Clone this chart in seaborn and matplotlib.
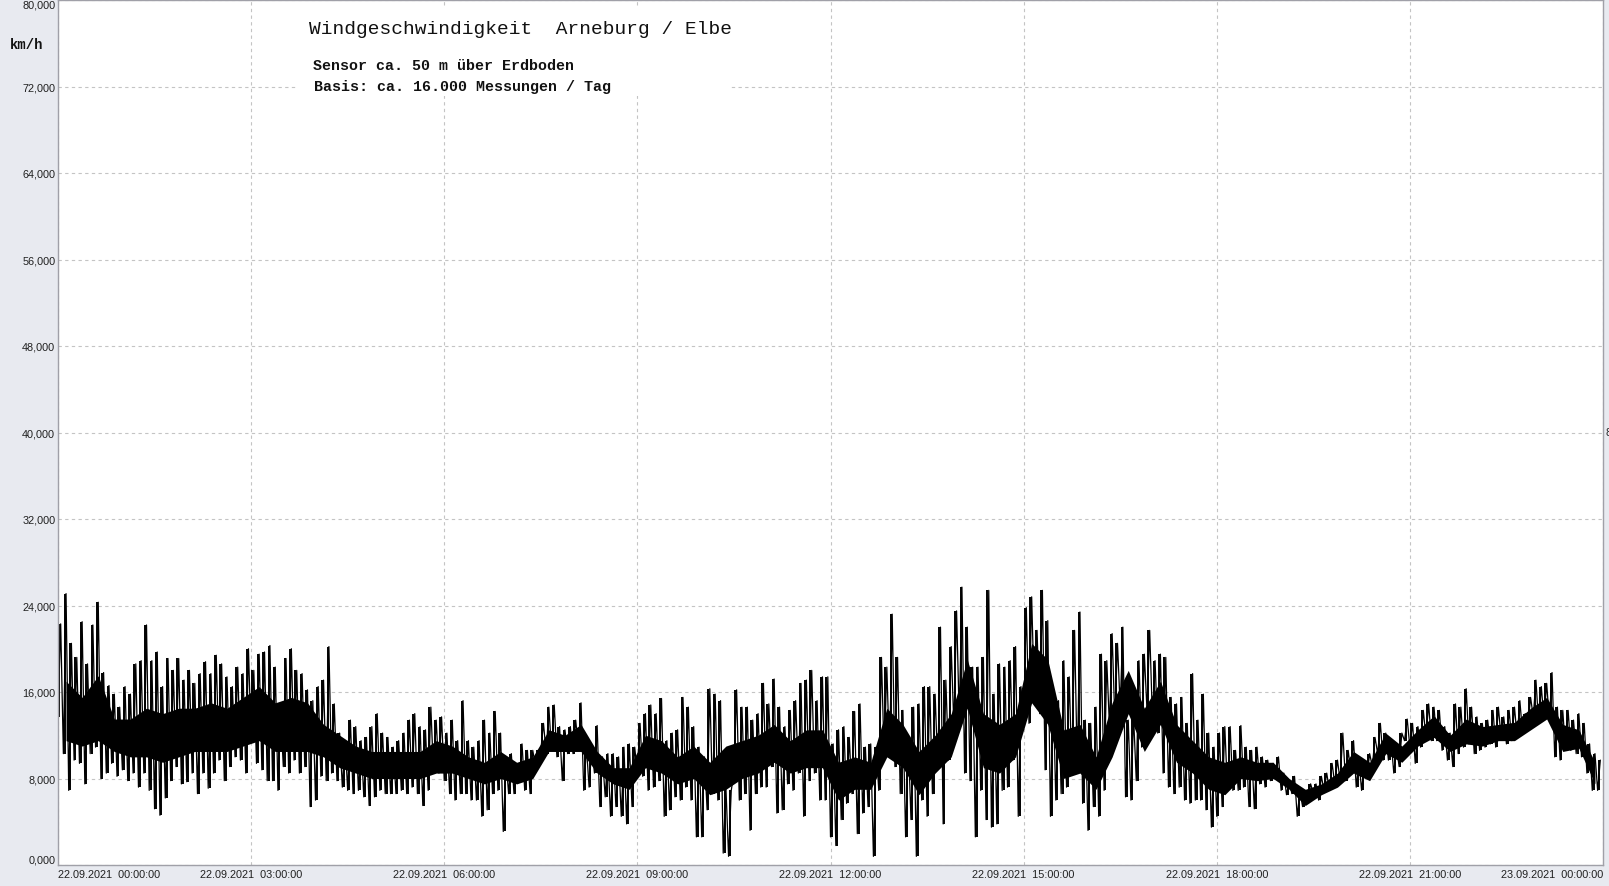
import numpy as np
import pandas as pd
import seaborn as sns
from matplotlib import pyplot as plt
from matplotlib.patches import Rectangle
from matplotlib.ticker import FuncFormatter

# wind speed (km/h), 5-minute windows, one row per hour: upper and lower extremes
wind_hi = [
    22.3, 25.1, 20.5, 19.2, 22.5, 18.6, 22.2, 24.3, 17.8, 16.6, 15.8, 14.6,
    16.5, 15.8, 18.6, 18.9, 22.2, 18.9, 19.7, 16.5, 19.1, 18.0, 19.1, 17.1,
    18.0, 16.8, 17.7, 18.8, 17.7, 19.4, 18.6, 17.4, 16.5, 18.3, 17.7, 20.0,
    18.0, 19.5, 19.7, 20.3, 18.3, 14.0, 19.1, 20.0, 18.0, 17.7, 16.2, 15.2,
    16.5, 17.1, 20.2, 14.9, 12.2, 11.5, 13.4, 12.8, 11.5, 11.8, 12.8, 14.0,
    12.2, 11.8, 10.9, 11.5, 12.2, 13.4, 14.0, 12.8, 12.5, 14.6, 13.4, 13.7,
    12.2, 13.4, 11.5, 15.2, 11.5, 10.9, 11.5, 13.4, 12.2, 14.2, 12.2, 9.7,
    10.3, 9.1, 11.2, 10.6, 10.6, 10.6, 13.1, 14.6, 14.8, 12.8, 12.5, 12.8,
    13.4, 15.0, 10.9, 10.9, 12.9, 10.0, 10.3, 10.3, 10.0, 10.9, 11.2, 10.9,
    13.1, 14.0, 14.8, 14.0, 15.4, 11.5, 12.2, 12.5, 15.5, 14.6, 12.8, 10.9,
    10.0, 16.3, 15.8, 15.2, 7.2, 6.9, 16.2, 14.6, 14.6, 13.4, 14.0, 16.8,
    14.9, 17.2, 14.6, 12.8, 14.3, 15.2, 16.8, 17.1, 18.0, 15.2, 17.4, 17.4,
    11.2, 12.5, 12.8, 11.8, 14.2, 14.9, 10.9, 11.2, 10.9, 19.2, 18.3, 23.2,
    19.2, 14.3, 11.5, 14.6, 14.9, 16.5, 16.5, 15.8, 22.0, 17.1, 20.2, 23.5,
    25.7, 22.0, 18.3, 18.3, 19.2, 25.4, 15.8, 18.6, 18.3, 18.9, 20.2, 16.5,
    23.8, 24.8, 21.7, 25.4, 22.6, 16.2, 15.2, 18.9, 17.4, 21.7, 23.4, 13.4,
    13.1, 14.6, 19.5, 18.9, 21.4, 20.5, 22.0, 13.4, 13.7, 18.9, 19.5, 21.7,
    18.9, 19.5, 19.2, 15.5, 14.9, 15.5, 13.1, 17.7, 13.4, 15.8, 12.2, 10.9,
    12.2, 12.8, 12.8, 10.6, 12.9, 10.9, 10.6, 10.9, 10.0, 9.7, 9.4, 10.0,
    8.5, 7.8, 8.2, 6.9, 6.9, 7.5, 7.5, 8.2, 8.5, 9.4, 9.7, 12.2,
    10.6, 11.5, 9.7, 9.4, 10.3, 11.8, 13.1, 12.2, 11.5, 10.9, 12.2, 13.5,
    13.1, 12.8, 14.3, 14.9, 14.6, 14.3, 12.8, 12.2, 14.9, 14.6, 16.3, 14.6,
    13.7, 13.1, 13.4, 14.3, 14.6, 13.7, 14.3, 14.6, 15.2, 14.0, 15.5, 17.1,
    16.5, 16.8, 17.8, 14.6, 14.3, 14.3, 13.4, 14.0, 13.1, 11.2, 10.3, 9.7,
]
wind_lo = [
    13.7, 10.3, 6.9, 9.7, 9.4, 7.5, 10.3, 10.9, 8.0, 8.5, 9.4, 8.2,
    8.8, 7.8, 8.5, 7.2, 8.5, 6.9, 5.2, 4.6, 6.2, 7.8, 9.1, 7.5,
    7.7, 8.5, 6.6, 8.5, 7.1, 8.5, 9.7, 7.8, 9.1, 10.0, 9.7, 8.5,
    11.5, 9.4, 8.8, 7.8, 7.8, 6.9, 9.1, 8.5, 9.7, 8.5, 9.1, 5.4,
    6.0, 8.2, 7.8, 8.5, 7.8, 7.2, 6.9, 6.6, 6.9, 6.3, 5.5, 6.3,
    6.9, 6.6, 6.6, 6.6, 6.9, 6.6, 7.2, 6.6, 5.5, 6.9, 8.5, 8.5,
    7.8, 6.6, 6.0, 6.6, 6.6, 6.0, 6.0, 4.5, 5.1, 6.6, 6.9, 3.1,
    6.6, 6.6, 7.8, 6.9, 6.6, 9.1, 10.6, 10.3, 10.6, 10.0, 7.8, 10.3,
    10.3, 10.9, 6.9, 7.2, 8.5, 5.4, 6.3, 4.5, 5.4, 4.5, 3.8, 5.4,
    8.5, 8.2, 6.9, 7.2, 7.8, 4.5, 5.1, 6.3, 6.0, 7.2, 6.0, 2.6,
    2.6, 5.1, 6.6, 6.0, 1.1, 0.8, 8.5, 6.0, 6.6, 3.2, 6.6, 7.2,
    7.2, 9.1, 4.8, 5.1, 7.5, 6.9, 8.5, 4.5, 7.8, 8.5, 6.0, 6.0,
    2.6, 1.8, 4.2, 5.7, 6.6, 2.9, 4.8, 5.4, 0.8, 6.9, 10.0, 10.0,
    9.1, 6.6, 2.6, 4.2, 0.8, 6.0, 4.5, 6.6, 9.1, 3.8, 9.7, 12.8,
    13.7, 8.5, 7.8, 2.6, 6.9, 4.2, 3.5, 3.8, 6.9, 7.2, 9.7, 4.5,
    13.1, 13.1, 15.2, 14.0, 8.8, 4.5, 6.0, 6.6, 7.2, 8.5, 9.1, 5.7,
    3.2, 5.4, 4.5, 6.9, 12.8, 13.4, 14.6, 6.3, 6.0, 7.8, 10.9, 14.3,
    13.7, 12.2, 8.5, 7.2, 6.6, 7.2, 6.0, 5.7, 6.0, 6.0, 5.1, 3.5,
    4.5, 5.4, 6.9, 6.9, 6.9, 7.2, 5.4, 5.2, 7.5, 7.2, 7.8, 8.2,
    6.9, 6.5, 6.6, 4.5, 5.4, 6.0, 6.6, 6.0, 6.9, 6.9, 7.5, 7.8,
    7.8, 8.5, 7.2, 6.9, 8.2, 9.1, 10.3, 9.7, 9.7, 8.5, 9.1, 11.5,
    10.9, 9.4, 10.9, 11.8, 11.5, 11.5, 10.6, 9.7, 9.1, 10.3, 10.9, 11.2,
    10.3, 10.6, 10.9, 11.2, 10.9, 11.8, 11.2, 11.5, 11.8, 12.2, 12.8, 13.7,
    13.1, 13.4, 13.4, 10.0, 9.7, 10.6, 10.6, 10.3, 10.0, 8.5, 6.9, 6.9,
]

# dense part of the trace, 15-minute windows, one row per hour
core_lo = [
    11.5, 11.0, 11.5, 10.5, 10.0, 10.0, 9.5, 10.0, 10.5, 10.5, 10.5, 11.0,
    11.5, 10.5, 10.5, 10.5, 10.0, 9.0, 8.5, 8.0, 8.0, 8.0, 8.0, 8.5,
    8.5, 8.0, 7.5, 8.0, 7.5, 8.0, 10.5, 10.5, 10.5, 8.5, 7.5, 7.0,
    9.0, 8.5, 7.5, 8.0, 6.5, 7.0, 8.0, 8.5, 9.5, 8.5, 9.0, 9.0,
    6.0, 7.0, 7.0, 10.0, 9.0, 6.5, 8.5, 10.0, 14.5, 9.0, 8.5, 10.0,
    15.0, 13.0, 8.0, 8.5, 7.0, 10.0, 14.0, 10.5, 13.0, 9.5, 8.5, 7.0,
    6.5, 8.0, 7.8, 8.0, 7.0, 5.5, 6.5, 7.2, 8.5, 7.8, 10.3, 9.5,
    11.0, 11.8, 10.5, 11.2, 11.0, 11.5, 11.5, 12.5, 13.5, 10.5, 10.8, 7.5,
]
core_hi = [
    17.0, 15.5, 17.5, 13.5, 13.5, 14.5, 14.0, 14.5, 14.5, 15.0, 14.5, 15.5,
    16.5, 15.0, 15.5, 15.0, 13.0, 12.0, 11.0, 10.5, 10.5, 10.5, 10.5, 11.5,
    11.0, 10.0, 9.5, 10.5, 9.5, 10.0, 12.5, 12.0, 13.0, 10.5, 9.0, 9.0,
    12.0, 11.5, 10.0, 11.0, 9.5, 11.0, 11.5, 12.0, 13.0, 11.5, 12.5, 12.5,
    9.5, 10.0, 9.5, 14.5, 13.0, 10.5, 12.0, 14.0, 19.0, 14.0, 13.0, 14.0,
    20.5, 19.0, 12.5, 13.0, 10.0, 15.0, 18.0, 14.5, 17.0, 13.0, 11.5, 10.0,
    9.5, 10.0, 9.5, 9.5, 8.0, 7.0, 7.5, 8.5, 10.5, 9.5, 12.2, 11.0,
    12.5, 13.8, 12.0, 13.5, 12.8, 13.0, 13.2, 14.5, 15.5, 13.0, 12.5, 9.5,
]

x_ticks = [0, 3, 6, 9, 12, 15, 18, 21, 24]
x_labels = ["22.09.2021  00:00:00", "22.09.2021  03:00:00", "22.09.2021  06:00:00",
            "22.09.2021  09:00:00", "22.09.2021  12:00:00", "22.09.2021  15:00:00",
            "22.09.2021  18:00:00", "22.09.2021  21:00:00", "23.09.2021  00:00:00"]
y_ticks = [0, 8, 16, 24, 32, 40, 48, 56, 64, 72, 80]

title = "Windgeschwindigkeit  Arneburg / Elbe"
sub1 = "Sensor ca. 50 m über Erdboden"
sub2 = "Basis: ca. 16.000 Messungen / Tag"

W, H = 1609, 887

# one low and one high reading per 5-minute window, in time order
slot = np.arange(len(wind_hi)) * 5 / 60
df = pd.DataFrame({
    "stunde": np.column_stack([slot, slot + 2.5 / 60]).ravel(),
    "kmh": np.column_stack([wind_lo, wind_hi]).ravel(),
})
core_t = np.arange(len(core_lo)) * 15 / 60 + 7.5 / 60

sns.set_style("white")
plt.rcParams['font.family'] = ['Liberation Sans', 'DejaVu Sans']

fig = plt.figure(figsize=(W / 100, H / 100), dpi=100, facecolor="#e8eaf0")
ax = fig.add_axes([58 / W, (H - 866) / H, (1603 - 58) / W, (866 - 1) / H])
ax.set_facecolor("white")

ax.fill_between(core_t, core_lo, core_hi, color="black", linewidth=0, zorder=2)
ax.vlines(slot + 1.25 / 60, wind_lo, wind_hi, color="black", linewidth=1.4, zorder=2)
sns.lineplot(data=df, x="stunde", y="kmh", ax=ax, color="black",
             linewidth=0.9, estimator=None, sort=False, legend=False)

ax.set_xlim(0, 24)
ax.set_ylim(0, 80)
ax.set_xlabel("")
ax.set_ylabel("")

ax.set_xticks(x_ticks)
ax.set_xticks(np.arange(0, 24.01, 0.75), minor=True)
ax.set_xticklabels(x_labels)
ax.set_yticks(y_ticks)
ax.set_yticks(np.arange(0, 80.1, 2), minor=True)
ax.yaxis.set_major_formatter(FuncFormatter(lambda v, p: f"{v:.3f}".replace(".", ",")))

ax.tick_params(which="both", direction="in", color="#a0a0a0", length=4, width=0.8,
               labelsize=7.8, labelcolor="#202020", pad=3)
ax.tick_params(axis="y", pad=2)

xl = ax.get_xticklabels()
xl[0].set_ha("left")
xl[-1].set_ha("right")
yl = ax.get_yticklabels()
yl[0].set_va("bottom")
yl[-1].set_va("top")

ax.set_axisbelow(True)
ax.grid(True, which="major", color="#c4c4c4", linestyle=(0, (3, 3)), linewidth=0.8)
for s in ax.spines.values():
    s.set_color("#a0a0a8")
    s.set_linewidth(1.0)

# white box behind the header text
ax.add_patch(Rectangle((296 / W, 1 - 97 / H), (730 - 296) / W, (97 - 8) / H,
                       transform=fig.transFigure, facecolor="white",
                       edgecolor="none", zorder=1))

mono = ["Liberation Mono", "DejaVu Sans Mono"]
fig.text(309 / W, 1 - 30 / H, title, family=mono, fontsize=14, va="center", color="#111111")
fig.text(313 / W, 1 - 66 / H, sub1, family=mono, fontsize=10.8, weight="bold", va="center", color="#111111")
fig.text(314 / W, 1 - 87 / H, sub2, family=mono, fontsize=10.8, weight="bold", va="center", color="#111111")
fig.text(10 / W, 1 - 45 / H, "km/h", family=mono, fontsize=10, weight="bold", va="center", color="#111111")
fig.text(1606 / W, 1 - 433 / H, "8", fontsize=7.5, va="center", color="#202020")

fig.savefig("out.png", dpi=100, facecolor=fig.get_facecolor())
